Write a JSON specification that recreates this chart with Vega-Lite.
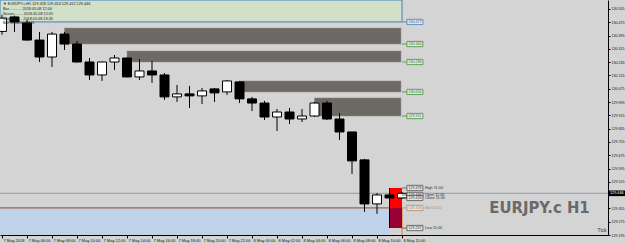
{
  "$schema": "https://vega.github.io/schema/vega-lite/v6.json",
  "width": 608,
  "height": 235,
  "padding": {"left": 0, "top": 0, "right": 17, "bottom": 8},
  "autosize": {"type": "none"},
  "background": "#D4D4D4",
  "config": {
    "view": {"stroke": null},
    "axis": {"grid": false, "domainColor": "#000", "tickColor": "#000", "labelColor": "#111", "labelFont": "Liberation Sans", "domainWidth": 1, "tickWidth": 1, "labelOverlap": false, "labelFlush": false}
  },
  "resolve": {"scale": {"fill": "independent", "stroke": "independent", "color": "independent"}},
  "datasets": {
    "candles": [
      {"t": "2018-05-07T04:00:00Z", "o": 130.42, "h": 130.52, "l": 130.40, "c": 130.50},
      {"t": "2018-05-07T05:00:00Z", "o": 130.507, "h": 130.515, "l": 130.417, "c": 130.477},
      {"t": "2018-05-07T06:00:00Z", "o": 130.471, "h": 130.49, "l": 130.365, "c": 130.368},
      {"t": "2018-05-07T07:00:00Z", "o": 130.368, "h": 130.417, "l": 130.236, "c": 130.266},
      {"t": "2018-05-07T08:00:00Z", "o": 130.266, "h": 130.417, "l": 130.206, "c": 130.404},
      {"t": "2018-05-07T09:00:00Z", "o": 130.404, "h": 130.417, "l": 130.308, "c": 130.344},
      {"t": "2018-05-07T10:00:00Z", "o": 130.344, "h": 130.362, "l": 130.233, "c": 130.236},
      {"t": "2018-05-07T11:00:00Z", "o": 130.236, "h": 130.260, "l": 130.128, "c": 130.158},
      {"t": "2018-05-07T12:00:00Z", "o": 130.158, "h": 130.238, "l": 130.122, "c": 130.236},
      {"t": "2018-05-07T13:00:00Z", "o": 130.236, "h": 130.278, "l": 130.188, "c": 130.260},
      {"t": "2018-05-07T14:00:00Z", "o": 130.260, "h": 130.262, "l": 130.144, "c": 130.146},
      {"t": "2018-05-07T15:00:00Z", "o": 130.146, "h": 130.254, "l": 130.128, "c": 130.182},
      {"t": "2018-05-07T16:00:00Z", "o": 130.182, "h": 130.242, "l": 130.110, "c": 130.158},
      {"t": "2018-05-07T17:00:00Z", "o": 130.158, "h": 130.170, "l": 130.008, "c": 130.026},
      {"t": "2018-05-07T18:00:00Z", "o": 130.026, "h": 130.098, "l": 129.996, "c": 130.044},
      {"t": "2018-05-07T19:00:00Z", "o": 130.044, "h": 130.092, "l": 129.959, "c": 130.032},
      {"t": "2018-05-07T20:00:00Z", "o": 130.032, "h": 130.080, "l": 129.983, "c": 130.062},
      {"t": "2018-05-07T21:00:00Z", "o": 130.074, "h": 130.080, "l": 129.996, "c": 130.050},
      {"t": "2018-05-07T22:00:00Z", "o": 130.056, "h": 130.128, "l": 130.038, "c": 130.122},
      {"t": "2018-05-07T23:00:00Z", "o": 130.116, "h": 130.122, "l": 129.989, "c": 130.014},
      {"t": "2018-05-08T00:00:00Z", "o": 130.014, "h": 130.026, "l": 129.941, "c": 129.989},
      {"t": "2018-05-08T01:00:00Z", "o": 129.989, "h": 130.002, "l": 129.887, "c": 129.905},
      {"t": "2018-05-08T02:00:00Z", "o": 129.905, "h": 129.953, "l": 129.821, "c": 129.935},
      {"t": "2018-05-08T03:00:00Z", "o": 129.935, "h": 129.959, "l": 129.863, "c": 129.893},
      {"t": "2018-05-08T04:00:00Z", "o": 129.893, "h": 129.953, "l": 129.875, "c": 129.911},
      {"t": "2018-05-08T05:00:00Z", "o": 129.911, "h": 129.996, "l": 129.905, "c": 129.989},
      {"t": "2018-05-08T06:00:00Z", "o": 129.989, "h": 130.002, "l": 129.887, "c": 129.893},
      {"t": "2018-05-08T07:00:00Z", "o": 129.893, "h": 129.929, "l": 129.767, "c": 129.815},
      {"t": "2018-05-08T08:00:00Z", "o": 129.815, "h": 129.815, "l": 129.562, "c": 129.641},
      {"t": "2018-05-08T09:00:00Z", "o": 129.647, "h": 129.653, "l": 129.334, "c": 129.382},
      {"t": "2018-05-08T10:00:00Z", "o": 129.382, "h": 129.448, "l": 129.322, "c": 129.436},
      {"t": "2018-05-08T11:00:00Z", "o": 129.436, "h": 129.478, "l": 129.237, "c": 129.418},
      {"t": "2018-05-08T12:00:00Z", "o": 129.418, "h": 129.454, "l": 129.412, "c": 129.446}
    ],
    "shapes": [
      {"name": "below mid", "t": "2018-05-07T03:50:24Z", "t2": "2018-05-08T11:00:00Z", "p": 129.358, "p2": 129.195},
      {"name": "info panel", "t": "2018-05-07T03:50:24Z", "t2": "2018-05-08T12:00:00Z", "p": 130.609, "p2": 130.477},
      {"name": "zone", "t": "2018-05-07T09:00:00Z", "t2": "2018-05-08T11:55:00Z", "p": 130.440, "p2": 130.344},
      {"name": "zone", "t": "2018-05-07T14:00:00Z", "t2": "2018-05-08T11:55:00Z", "p": 130.302, "p2": 130.236},
      {"name": "zone", "t": "2018-05-07T23:00:00Z", "t2": "2018-05-08T11:55:00Z", "p": 130.122, "p2": 130.056},
      {"name": "zone", "t": "2018-05-08T05:00:00Z", "t2": "2018-05-08T11:55:00Z", "p": 130.020, "p2": 129.911},
      {"name": "high-mid", "t": "2018-05-08T11:00:00Z", "t2": "2018-05-08T12:00:00Z", "p": 129.478, "p2": 129.358},
      {"name": "mid-low", "t": "2018-05-08T11:00:00Z", "t2": "2018-05-08T12:00:00Z", "p": 129.358, "p2": 129.237},
      {"name": "bid tag", "t": "2018-05-09T04:31:00Z", "t2": "2018-05-09T05:52:00Z", "p": 129.463, "p2": 129.429}
    ],
    "lines": [
      {"name": "mid", "t": "2018-05-07T03:50:24Z", "t2": "2018-05-08T12:00:00Z", "p": 129.358, "p2": 129.358},
      {"name": "bid", "t": "2018-05-07T03:50:24Z", "t2": "2018-05-09T04:28:48Z", "p": 129.446, "p2": 129.446},
      {"name": "vline", "t": "2018-05-08T12:00:00Z", "t2": "2018-05-08T12:00:00Z", "p": 129.358, "p2": 129.195}
    ],
    "tags": [
      {"p": 130.477, "k": "panel", "t": "2018-05-08T13:02:00Z"},
      {"p": 130.344, "k": "zone", "t": "2018-05-08T13:02:00Z"},
      {"p": 130.236, "k": "zone", "t": "2018-05-08T13:02:00Z"},
      {"p": 130.056, "k": "zone", "t": "2018-05-08T13:02:00Z"},
      {"p": 129.911, "k": "zone", "t": "2018-05-08T13:02:00Z"},
      {"p": 129.478, "k": "ohlc", "t": "2018-05-08T13:02:00Z"},
      {"p": 129.436, "k": "ohlc", "t": "2018-05-08T13:02:00Z"},
      {"p": 129.418, "k": "ohlc", "t": "2018-05-08T13:02:00Z"},
      {"p": 129.358, "k": "mid", "t": "2018-05-08T13:02:00Z"},
      {"p": 129.237, "k": "ohlc", "t": "2018-05-08T13:02:00Z"}
    ],
    "ann": [
      {"s": "High 11:00", "p": 129.478, "t": "2018-05-08T13:50:00Z"},
      {"s": "Open 11:00", "p": 129.437, "t": "2018-05-08T13:50:00Z"},
      {"s": "Close 11:00", "p": 129.415, "t": "2018-05-08T13:50:00Z"},
      {"s": "Mid 11:00", "p": 129.355, "t": "2018-05-08T13:50:00Z"},
      {"s": "Low 11:00", "p": 129.237, "t": "2018-05-08T13:50:00Z"}
    ],
    "info": [
      {"s": "▼ EURJPY.c,H1  129.418 129.454 129.412 129.446", "p": 130.585, "t": "2018-05-07T04:05:00Z"},
      {"s": "Bar............ 2018.05.08 12:00", "p": 130.556, "t": "2018-05-07T04:05:00Z"},
      {"s": "Server........ 2018.05.08 12:05", "p": 130.526, "t": "2018-05-07T04:05:00Z"},
      {"s": "Client......... 2018.05.08 13:26", "p": 130.496, "t": "2018-05-07T04:05:00Z"},
      {"s": "Bar remains:  54 %", "p": 130.468, "t": "2018-05-07T04:05:00Z"}
    ],
    "words": [
      {"s": "EURJPY.c H1", "k": "watermark", "t": "2018-05-08T23:00:00Z", "p": 129.360},
      {"s": "129.446", "k": "bid", "t": "2018-05-09T05:11:00Z", "p": 129.446},
      {"s": "Tick", "k": "tick", "t": "2018-05-09T04:00:00Z", "p": 129.224}
    ]
  },
  "encoding": {
    "x": {"field": "t", "type": "temporal",
      "scale": {"type": "utc", "domain": [1525665024000, 1525840128000], "padding": 0},
      "axis": {
        "title": null,
        "values": [1525665600000, 1525672800000, 1525680000000, 1525687200000, 1525694400000, 1525701600000, 1525708800000, 1525716000000, 1525723200000, 1525730400000, 1525737600000, 1525744800000, 1525752000000, 1525759200000, 1525766400000, 1525773600000, 1525780800000],
        "labelExpr": "utcFormat(datum.value,'%d%H') == '0704' ? '7 May 2018' : (utcFormat(datum.value,'%d%H') == '0812' ? '8 May 11:00' : utcFormat(datum.value,'%-d %b %H:%M'))",
        "labelAlign": "left", "labelBaseline": "top", "labelFontSize": 4, "labelPadding": 0, "labelOffset": 1, "tickSize": 3,
        "labelOverlap": false, "labelFlush": false
      }
    },
    "y": {"field": "p", "type": "quantitative",
      "scale": {"domain": [129.195, 130.609], "zero": false, "nice": false, "padding": 0},
      "axis": {
        "title": null, "orient": "right", "format": ".3f",
        "values": [130.555, 130.475, 130.395, 130.315, 130.235, 130.155, 130.075, 129.995, 129.915, 129.835, 129.755, 129.675, 129.595, 129.515, 129.355, 129.275, 129.195],
        "labelFontSize": 3.6, "tickSize": 2, "labelPadding": 1, "labelOverlap": false, "labelFlush": false, "labelBaseline": "middle"
      }
    }
  },
  "layer": [
    {
      "data": {"name": "shapes"},
      "transform": [{"filter": "datum.name == 'below mid'"}],
      "mark": {"type": "rect", "fill": "#BED3EA"},
      "encoding": {"x2": {"field": "t2"}, "y2": {"field": "p2"}}
    },
    {
      "data": {"name": "shapes"},
      "transform": [{"filter": "datum.name == 'info panel'"}],
      "mark": {"type": "rect", "fill": "#D2E0C8", "stroke": "#3F80C8", "strokeWidth": 1, "clip": true},
      "encoding": {"x2": {"field": "t2"}, "y2": {"field": "p2"}}
    },
    {
      "data": {"name": "shapes"},
      "transform": [{"filter": "datum.name == 'zone'"}],
      "mark": {"type": "rect", "fill": "#6D6A66", "stroke": "#8E8C89", "strokeWidth": 0.5},
      "encoding": {"x2": {"field": "t2"}, "y2": {"field": "p2"}}
    },
    {
      "data": {"name": "lines"},
      "mark": {"type": "rule", "strokeWidth": 1, "clip": true},
      "encoding": {
        "x2": {"field": "t2"}, "y2": {"field": "p2"},
        "stroke": {"field": "name", "type": "nominal", "scale": {"domain": ["mid", "bid", "vline"], "range": ["#9A4A1E", "#8C9CAE", "#E07A1E"]}, "legend": null}
      }
    },
    {
      "data": {"name": "shapes"},
      "transform": [{"filter": "datum.name == 'high-mid' || datum.name == 'mid-low'"}],
      "mark": {"type": "rect"},
      "encoding": {
        "x2": {"field": "t2"}, "y2": {"field": "p2"},
        "fill": {"field": "name", "type": "nominal", "scale": {"domain": ["high-mid", "mid-low"], "range": ["#FF0000", "#990033"]}, "legend": null}
      }
    },
    {
      "data": {"name": "candles"},
      "mark": {"type": "rule", "stroke": "#000", "strokeWidth": 1, "clip": true},
      "encoding": {
        "y": {"field": "l", "type": "quantitative",
          "scale": {"domain": [129.195, 130.609], "zero": false, "nice": false, "padding": 0},
          "axis": {
            "title": null, "orient": "right", "format": ".3f",
            "values": [130.555, 130.475, 130.395, 130.315, 130.235, 130.155, 130.075, 129.995, 129.915, 129.835, 129.755, 129.675, 129.595, 129.515, 129.355, 129.275, 129.195],
            "labelFontSize": 3.6, "tickSize": 2, "labelPadding": 1, "labelOverlap": false, "labelFlush": false, "labelBaseline": "middle"
          }
        },
        "y2": {"field": "h"}
      }
    },
    {
      "data": {"name": "candles"},
      "mark": {"type": "bar", "size": 9, "stroke": "#000", "strokeWidth": 1, "clip": true},
      "encoding": {
        "y": {"field": "o", "type": "quantitative",
          "scale": {"domain": [129.195, 130.609], "zero": false, "nice": false, "padding": 0},
          "axis": {
            "title": null, "orient": "right", "format": ".3f",
            "values": [130.555, 130.475, 130.395, 130.315, 130.235, 130.155, 130.075, 129.995, 129.915, 129.835, 129.755, 129.675, 129.595, 129.515, 129.355, 129.275, 129.195],
            "labelFontSize": 3.6, "tickSize": 2, "labelPadding": 1, "labelOverlap": false, "labelFlush": false, "labelBaseline": "middle"
          }
        },
        "y2": {"field": "c"},
        "fill": {"condition": {"test": "datum.c >= datum.o", "value": "#FFFFFF"}, "value": "#000000"}
      }
    },
    {
      "data": {"name": "words"},
      "transform": [{"filter": "datum.k == 'watermark'"}],
      "mark": {"type": "text", "font": "DejaVu Sans Condensed", "fontWeight": "bold", "fontSize": 16.5, "fill": "#6A6A6A", "align": "center", "baseline": "middle"},
      "encoding": {"text": {"field": "s"}}
    },
    {
      "data": {"name": "tags"},
      "mark": {"type": "rule", "strokeWidth": 0.8},
      "encoding": {
        "x2": {"datum": {"year": 2018, "month": 5, "date": 8, "hours": 12, "utc": true}},
        "stroke": {"field": "k", "type": "nominal", "scale": {"domain": ["panel", "zone", "ohlc", "mid"], "range": ["#3F80C8", "#3C963C", "#505050", "#B08A70"]}, "legend": null}
      }
    },
    {
      "data": {"name": "tags"},
      "mark": {"type": "point", "shape": "M-1,-0.33H1V0.33H-1Z", "size": 256, "filled": false, "fill": "#E4E4E4", "fillOpacity": 1, "strokeWidth": 0.8, "opacity": 1},
      "encoding": {
        "stroke": {"field": "k", "type": "nominal", "scale": {"domain": ["panel", "zone", "ohlc", "mid"], "range": ["#3F80C8", "#3C963C", "#505050", "#B08A70"]}, "legend": null}
      }
    },
    {
      "data": {"name": "tags"},
      "mark": {"type": "text", "font": "Liberation Sans", "fontSize": 3.6, "align": "center", "baseline": "middle"},
      "encoding": {
        "text": {"field": "p", "type": "quantitative", "format": ".3f"},
        "color": {"field": "k", "type": "nominal", "scale": {"domain": ["panel", "zone", "ohlc", "mid"], "range": ["#2F60A0", "#2C762C", "#303030", "#A08070"]}, "legend": null}
      }
    },
    {
      "data": {"name": "ann"},
      "mark": {"type": "text", "font": "Liberation Sans", "fontSize": 3.8, "align": "left", "baseline": "middle"},
      "encoding": {
        "text": {"field": "s", "type": "nominal"},
        "fill": {"condition": {"test": "datum.s == 'Mid 11:00'", "value": "#A89080"}, "value": "#333333"}
      }
    },
    {
      "data": {"name": "info"},
      "mark": {"type": "text", "font": "Liberation Sans", "fontSize": 3.8, "align": "left", "baseline": "middle", "fill": "#222"},
      "encoding": {
        "text": {"field": "s", "type": "nominal"}
      }
    },
    {
      "data": {"name": "shapes"},
      "transform": [{"filter": "datum.name == 'bid tag'"}],
      "mark": {"type": "rect", "fill": "#000000"},
      "encoding": {"x2": {"field": "t2"}, "y2": {"field": "p2"}}
    },
    {
      "data": {"name": "words"},
      "transform": [{"filter": "datum.k == 'bid'"}],
      "mark": {"type": "text", "font": "Liberation Sans", "fontSize": 3.8, "fill": "#FFFFFF", "align": "center", "baseline": "middle"},
      "encoding": {"text": {"field": "s"}}
    },
    {
      "data": {"name": "words"},
      "transform": [{"filter": "datum.k == 'tick'"}],
      "mark": {"type": "text", "font": "Liberation Sans", "fontSize": 5, "fill": "#333333", "align": "center", "baseline": "middle"},
      "encoding": {"text": {"field": "s"}}
    }
  ]
}
